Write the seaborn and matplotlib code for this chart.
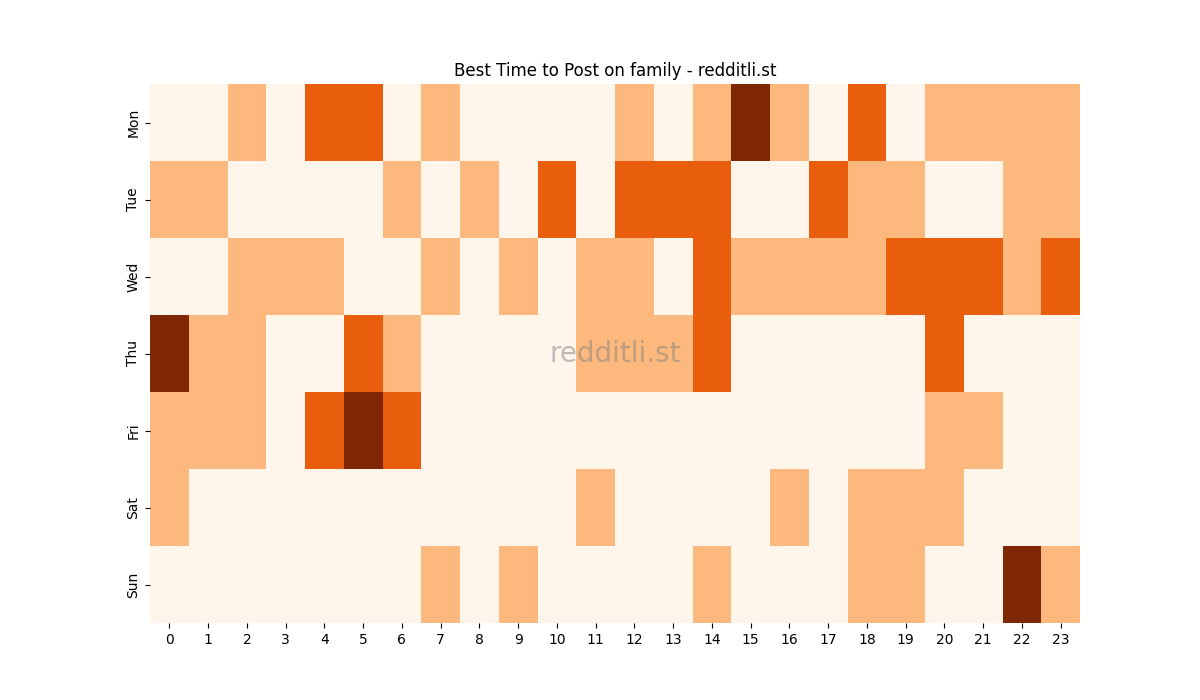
import seaborn as sns
import matplotlib.pyplot as plt
import pandas as pd

days = ['Mon', 'Tue', 'Wed', 'Thu', 'Fri', 'Sat', 'Sun']
hours = list(range(24))

# activity level per hour (0-3)
mon = [0, 0, 1, 0, 2, 2, 0, 1, 0, 0, 0, 0, 1, 0, 1, 3, 1, 0, 2, 0, 1, 1, 1, 1]
tue = [1, 1, 0, 0, 0, 0, 1, 0, 1, 0, 2, 0, 2, 2, 2, 0, 0, 2, 1, 1, 0, 0, 1, 1]
wed = [0, 0, 1, 1, 1, 0, 0, 1, 0, 1, 0, 1, 1, 0, 2, 1, 1, 1, 1, 2, 2, 2, 1, 2]
thu = [3, 1, 1, 0, 0, 2, 1, 0, 0, 0, 0, 1, 1, 1, 2, 0, 0, 0, 0, 0, 2, 0, 0, 0]
fri = [1, 1, 1, 0, 2, 3, 2, 0, 0, 0, 0, 0, 0, 0, 0, 0, 0, 0, 0, 0, 1, 1, 0, 0]
sat = [1, 0, 0, 0, 0, 0, 0, 0, 0, 0, 0, 1, 0, 0, 0, 0, 1, 0, 1, 1, 1, 0, 0, 0]
sun = [0, 0, 0, 0, 0, 0, 0, 1, 0, 1, 0, 0, 0, 0, 1, 0, 0, 0, 1, 1, 0, 0, 3, 1]

df = pd.DataFrame([mon, tue, wed, thu, fri, sat, sun], index=days, columns=hours)

fig, ax = plt.subplots(figsize=(12, 7), dpi=100)
sns.heatmap(df, cmap='Oranges', vmin=0, vmax=3, cbar=False, ax=ax)
ax.set_title('Best Time to Post on family - redditli.st')
ax.text(0.5, 0.5, 'redditli.st', transform=ax.transAxes, ha='center', va='center',
        fontsize=20, color='gray', alpha=0.5)
plt.savefig('out.png')
